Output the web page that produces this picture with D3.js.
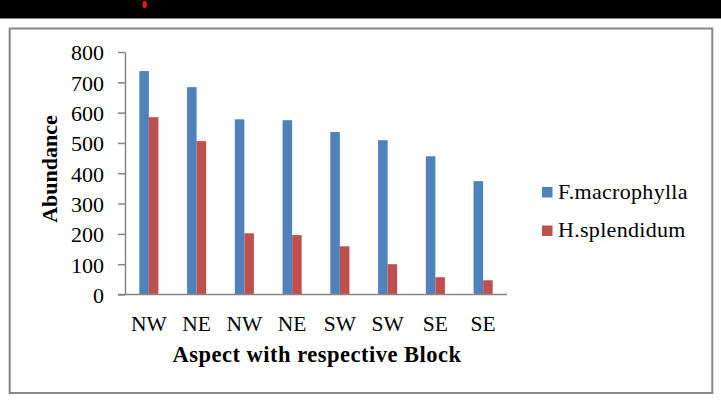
<!DOCTYPE html>
<meta charset="utf-8">
<style>
  body { margin: 0; background: #fff; }
  svg { display: block; font-family: "Liberation Serif", "DejaVu Serif", serif; }
  .axis .domain, .axis .tick line { stroke: #868686; stroke-width: 1.5; }
  .axis text { fill: #000; font-family: "Liberation Serif", serif; }
</style>
<body>
<script src="https://cdn.jsdelivr.net/npm/d3@7"></script>
<script>
  var categories = ["NW", "NE", "NW", "NE", "SW", "SW", "SE", "SE"];
  var seriesNames = ["F.macrophylla", "H.splendidum"];
  var macrophylla = [737, 684, 578, 575, 536, 509, 456, 374];
  var splendidum = [585, 506, 202, 196, 159, 100, 57, 47];
  var yTicks = [0, 100, 200, 300, 400, 500, 600, 700, 800];
  var colors = ["#4F81BD", "#C0504D"];

  var W = 721, H = 401;
  var plot = { left: 125, right: 507, top: 52, bottom: 294.5 };

  var svg = d3.select("body").append("svg")
    .attr("width", W)
    .attr("height", H);

  // black strip at top with the little red mark
  svg.append("rect").attr("x", 0).attr("y", 0).attr("width", W).attr("height", 18.5).attr("fill", "#000");
  svg.append("ellipse").attr("cx", 144.7).attr("cy", 4.5).attr("rx", 2.2).attr("ry", 3.8).attr("fill", "#e8141b");

  // chart frame
  svg.append("rect")
    .attr("x", 9.7).attr("y", 28.5)
    .attr("width", 702.6).attr("height", 364.5)
    .attr("fill", "#fff")
    .attr("stroke", "#868686")
    .attr("stroke-width", 2);

  var x0 = d3.scaleBand()
    .domain(d3.range(categories.length))
    .range([plot.left, plot.right]);

  var groupW = x0.bandwidth() / 2.5;
  var x1 = d3.scaleBand()
    .domain(d3.range(2))
    .range([0, groupW]);

  var y = d3.scaleLinear()
    .domain([0, 800])
    .range([plot.bottom, plot.top]);

  var yAxis = d3.axisLeft(y)
    .tickValues(yTicks)
    .tickSize(7)
    .tickSizeOuter(0)
    .tickPadding(14);

  var gy = svg.append("g")
    .attr("class", "axis")
    .attr("transform", "translate(" + plot.left + ",0)")
    .call(yAxis);
  gy.selectAll(".tick text").attr("dy", "0.36em").style("font-size", "22px");

  var series = [macrophylla, splendidum];

  svg.append("g").selectAll("g")
    .data(series)
    .enter().append("g")
    .attr("fill", function (d, i) { return colors[i]; })
    .attr("transform", function (d, i) { return "translate(" + x1(i) + ",0)"; })
    .selectAll("rect")
    .data(function (d) { return d; })
    .enter().append("rect")
    .attr("x", function (d, i) { return x0(i) + (x0.bandwidth() - groupW) / 2; })
    .attr("y", function (d) { return y(d); })
    .attr("width", x1.bandwidth())
    .attr("height", function (d) { return y(0) - y(d); });

  var xAxis = d3.axisBottom(x0)
    .tickFormat(function (i) { return categories[i]; })
    .tickSize(0)
    .tickPadding(21);

  var gx = svg.append("g")
    .attr("class", "axis")
    .attr("transform", "translate(0," + plot.bottom + ")")
    .call(xAxis);
  gx.select(".domain").attr("d", "M" + (plot.left - 7) + ",0H" + plot.right);
  gx.selectAll(".tick text").style("font-size", "21.5px");

  // axis titles
  svg.append("text")
    .attr("x", 317)
    .attr("y", 362)
    .attr("text-anchor", "middle")
    .style("font-size", "22.5px")
    .style("font-weight", "bold")
    .style("letter-spacing", "0.5px")
    .text("Aspect with respective Block");

  svg.append("text")
    .attr("transform", "translate(57,169) rotate(-90)")
    .attr("text-anchor", "middle")
    .style("font-size", "22px")
    .style("font-weight", "bold")
    .text("Abundance");

  // legend
  var legend = svg.append("g").selectAll("g")
    .data(seriesNames)
    .enter().append("g")
    .attr("transform", function (d, i) { return "translate(542," + (187 + i * 38.5) + ")"; });

  legend.append("rect")
    .attr("width", 10.5)
    .attr("height", 10.5)
    .attr("fill", function (d, i) { return colors[i]; });

  legend.append("text")
    .attr("x", 16)
    .attr("y", 11.5)
    .style("font-size", "22px")
    .style("letter-spacing", "0.3px")
    .text(function (d) { return d; });
</script>
</body>
